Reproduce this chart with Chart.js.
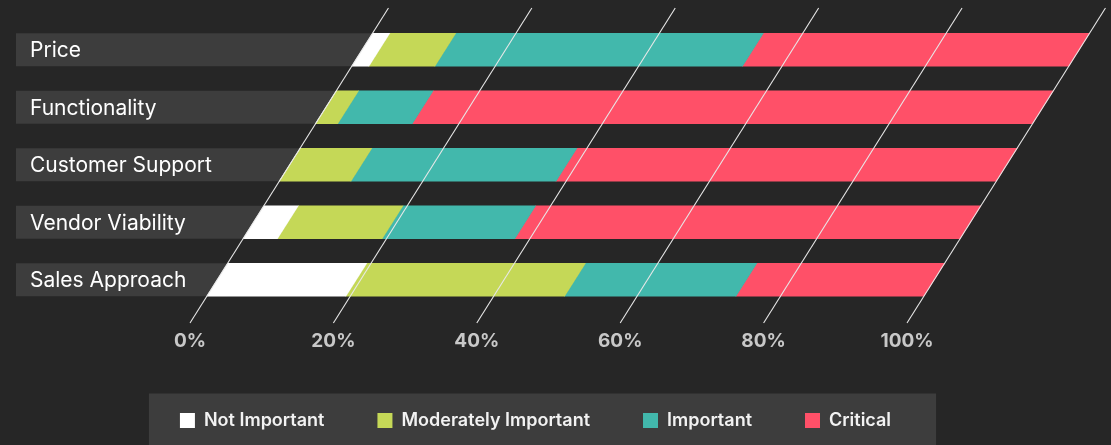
<!DOCTYPE html>
<html>
<head>
<meta charset="utf-8">
<script src="https://cdn.jsdelivr.net/npm/chart.js@4"></script>
<style>
  html, body { margin: 0; padding: 0; background: #262626; }
  #wrap { width: 1111px; height: 445px; }
</style>
</head>
<body>
<div id="wrap"><canvas id="importanceChart"></canvas></div>
<script>
// Chart data (percent of respondents)
const categories = ['Price', 'Functionality', 'Customer Support', 'Vendor Viability', 'Sales Approach'];
const notImportant = [2.4, 0, 0, 4.8, 19.4];
const moderatelyImportant = [9.2, 3.1, 10.0, 14.6, 30.5];
const important = [42.9, 10.4, 28.6, 18.5, 23.9];
const critical = [45.5, 86.5, 61.4, 62.1, 26.2];
const xTicks = [0, 20, 40, 60, 80, 100];

const seriesNames = ['Not Important', 'Moderately Important', 'Important', 'Critical'];
const seriesColors = ['#ffffff', '#c5d857', '#42b8ac', '#ff5068'];

// shear settings for the slanted look
const SHEAR = 0.63;      // x shift per pixel of height
const SHEAR_BASE = 323;  // y where the slant has no offset
const GRID_TOP = 8;

function shiftAt(y) {
  return (SHEAR_BASE - y) * SHEAR;
}

const skewPlugin = {
  id: 'skew',
  beforeDraw(chart) {
    const ctx = chart.ctx;
    ctx.save();
    ctx.fillStyle = '#262626';
    ctx.fillRect(0, 0, chart.width, chart.height);

    // legend background panel
    const boxes = chart.legend && chart.legend.legendHitBoxes;
    if (boxes && boxes.length) {
      const first = boxes[0];
      const last = boxes[boxes.length - 1];
      const mid = first.top + first.height / 2;
      ctx.fillStyle = '#3d3d3d';
      ctx.fillRect(first.left - 31, mid - 27, (last.left + last.width + 45) - (first.left - 31), chart.height - (mid - 27));
    }
    ctx.restore();
  },
  beforeDatasetsDraw(chart) {
    const ctx = chart.ctx;
    const x = chart.scales.x;
    const y = chart.scales.y;
    const half = 16.5;

    // category label panels
    ctx.save();
    chart.data.labels.forEach((label, i) => {
      const cy = y.getPixelForValue(i);
      const top = cy - half;
      const right = x.getPixelForValue(0) + shiftAt(top);
      ctx.fillStyle = '#3d3d3d';
      ctx.fillRect(16, top, right - 16, half * 2);
      ctx.fillStyle = '#ffffff';
      ctx.font = '400 21px Inter';
      ctx.textAlign = 'left';
      ctx.textBaseline = 'middle';
      ctx.fillText(label, 30, cy + 1);
    });
    ctx.restore();

    // shear the bars
    ctx.save();
    ctx.transform(1, 0, -SHEAR, 1, SHEAR * SHEAR_BASE, 0);
  },
  afterDatasetsDraw(chart) {
    const ctx = chart.ctx;
    ctx.restore();

    // slanted grid lines on top of the bars
    const x = chart.scales.x;
    ctx.save();
    ctx.strokeStyle = '#e8e8e8';
    ctx.lineWidth = 1.1;
    x.ticks.forEach(t => {
      const px = x.getPixelForValue(t.value);
      ctx.beginPath();
      ctx.moveTo(px, SHEAR_BASE);
      ctx.lineTo(px + shiftAt(GRID_TOP), GRID_TOP);
      ctx.stroke();
    });
    ctx.restore();
  }
};

const seriesData = [notImportant, moderatelyImportant, important, critical];

new Chart(document.getElementById('importanceChart'), {
  type: 'bar',
  data: {
    labels: categories,
    datasets: seriesNames.map((name, i) => ({
      label: name,
      data: seriesData[i],
      backgroundColor: seriesColors[i],
      borderWidth: 0,
      barThickness: 33,
      clip: false
    }))
  },
  options: {
    indexAxis: 'y',
    responsive: true,
    maintainAspectRatio: false,
    animation: false,
    layout: {
      padding: { top: 21, left: 0, right: 40, bottom: 5.5 }
    },
    plugins: {
      tooltip: { enabled: false },
      legend: {
        position: 'bottom',
        labels: {
          boxWidth: 15,
          boxHeight: 15,
          padding: 53,
          color: '#f2f2f2',
          font: { size: 18, weight: '600', family: 'Inter' }
        }
      }
    },
    scales: {
      x: {
        stacked: true,
        min: 0,
        max: 100,
        afterBuildTicks: function(scale) {
          scale.ticks = xTicks.map(v => ({ value: v }));
        },
        afterFit: function(scale) {
          scale.height = 50;
        },
        ticks: {
          padding: 21,
          color: '#c8c8c8',
          font: { size: 19, weight: 'bold', family: 'Inter' },
          callback: function(value) {
            return value + '%';
          }
        },
        grid: { display: false, drawTicks: false },
        border: { display: false }
      },
      y: {
        stacked: true,
        afterFit: function(scale) {
          scale.width = 190;
        },
        ticks: { display: false },
        grid: { display: false, drawTicks: false },
        border: { display: false }
      },
      // empty axis that only reserves room on the right
      spacer: {
        type: 'linear',
        position: 'right',
        afterFit: function(scale) {
          scale.width = 164;
        },
        ticks: { display: false },
        grid: { display: false, drawTicks: false },
        border: { display: false }
      }
    }
  },
  plugins: [skewPlugin]
});
</script>
</body>
</html>
